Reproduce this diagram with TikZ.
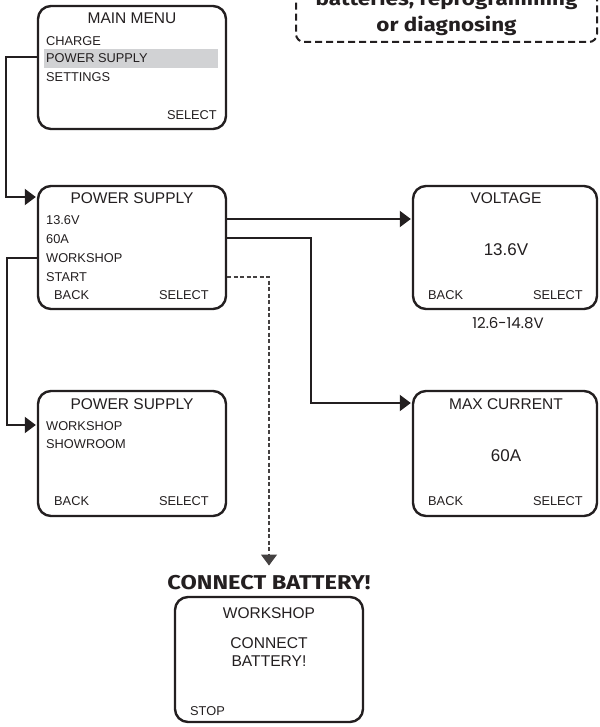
\documentclass[tikz,border=0pt]{standalone}
\usepackage{fontspec}
\setmainfont{Liberation Sans}
\newfontfamily\headfont{Fira Sans}[FakeStretch=1.18]
\newfontfamily\rangefont{Poppins}
\usetikzlibrary{arrows.meta}
\definecolor{ink}{HTML}{231F20}
\definecolor{hilite}{HTML}{D1D2D4}
\begin{document}
\begin{tikzpicture}[x=1pt,y=-1pt,
  screen/.style={draw=ink,line width=2.4pt,rounded corners=13pt,fill=white,inner sep=0pt},
  txt/.style={text=ink,inner sep=0pt,font=\fontsize{12.8}{14}\selectfont},
  ttl/.style={text=ink,inner sep=0pt,font=\fontsize{15.5}{17}\selectfont},
  big/.style={text=ink,inner sep=0pt,font=\fontsize{17}{19}\selectfont},
  wire/.style={draw=ink,line width=2pt},
  tip/.style={-{Triangle[length=11pt,width=16pt]}},
  hint/.style={draw=ink!85,line width=1.3pt,dash pattern=on 4pt off 2.5pt}]
\useasboundingbox (0,0) rectangle (599,727);
% note box, cut by the top edge
\node[draw=ink,line width=2pt,dash pattern=on 7pt off 4pt,rounded corners=8pt,
  minimum width=301,minimum height=58,align=center,text=ink,
  font=\headfont\bfseries\fontsize{19}{26}\selectfont] (note) at (446.5,13)
  {batteries, reprogramming\\or diagnosing};
% screens
\node[screen,minimum width=188,minimum height=123] (mm) at (132,67.5) {};
\node[screen,minimum width=188,minimum height=123] (ps1) at (132,247.5) {};
\node[screen,minimum width=188,minimum height=125] (ps2) at (132,453.5) {};
\node[screen,minimum width=184,minimum height=123] (vt) at (505,247.5) {};
\node[screen,minimum width=184,minimum height=125] (mc) at (505,453.5) {};
\node[screen,minimum width=188,minimum height=125] (cb) at (269,659.5) {};
\fill[hilite] (44,49) rectangle (218,68);
% main menu
\node[ttl] (mmt) at (132,18) {MAIN MENU};
\node[txt,anchor=west] (mm1) at (46,41) {CHARGE};
\node[txt,anchor=west] (mm2) at (46,58) {POWER SUPPLY};
\node[txt,anchor=west] (mm3) at (46,77) {SETTINGS};
\node[txt,anchor=east] (mms) at (217,115) {SELECT};
% power supply
\node[ttl] (ps1t) at (132,198) {POWER SUPPLY};
\node[txt,anchor=west] (ps11) at (46,220) {13.6V};
\node[txt,anchor=west] (ps12) at (46,239) {60A};
\node[txt,anchor=west] (ps13) at (46,258) {WORKSHOP};
\node[txt,anchor=west] (ps14) at (46,277) {START};
\node[txt,anchor=west] (ps1b) at (54,295) {BACK};
\node[txt,anchor=east] (ps1s) at (209,295) {SELECT};
% mode
\node[ttl] (ps2t) at (132,404) {POWER SUPPLY};
\node[txt,anchor=west] (ps21) at (46,426) {WORKSHOP};
\node[txt,anchor=west] (ps22) at (46,444) {SHOWROOM};
\node[txt,anchor=west] (ps2b) at (54,501) {BACK};
\node[txt,anchor=east] (ps2s) at (209,501) {SELECT};
% voltage
\node[ttl] (vtt) at (506,198) {VOLTAGE};
\node[big] (vtv) at (506,250) {13.6V};
\node[txt,anchor=west] (vtb) at (428,295) {BACK};
\node[txt,anchor=east] (vts) at (583,295) {SELECT};
\node[text=ink,inner sep=0pt,font=\rangefont\fontsize{15}{17}\selectfont] (vtr) at (508,323) {12.6-14.8V};
% max current
\node[ttl] (mct) at (506,404) {MAX CURRENT};
\node[big] (mcv) at (506,456) {60A};
\node[txt,anchor=west] (mcb) at (428,501) {BACK};
\node[txt,anchor=east] (mcs) at (583,501) {SELECT};
% connect battery
\node[text=ink,inner sep=0pt,font=\headfont\bfseries\fontsize{20}{22}\selectfont] (cbh) at (269,583) {CONNECT BATTERY!};
\node[ttl] (cbt) at (269,613) {WORKSHOP};
\node[text=ink,inner sep=0pt,align=center,font=\fontsize{15.6}{18.5}\selectfont] (cbm) at (269,652) {CONNECT\\BATTERY!};
\node[txt,anchor=west] (cbs) at (190,711) {STOP};
% connectors
\draw[wire,tip,shorten >=1pt] ([yshift=10.5pt]mm.west) -- ++(-31,0) |- ([yshift=50.5pt]ps1.west);
\draw[wire,tip,shorten >=1pt] ([yshift=28.5pt]ps1.east) -- ([yshift=28.5pt]ps1.east -| vt.west);
\draw[wire,tip,shorten >=1pt] ([yshift=9.5pt]ps1.east) -- ++(84,0) |- ([yshift=50.5pt]mc.west);
\draw[wire,tip,shorten >=1pt] ([yshift=-10.5pt]ps1.west) -- ++(-30,0) |- ([yshift=28.5pt]ps2.west);
\draw[hint,tip] ([yshift=-29.5pt]ps1.east) -| ([yshift=10pt]cbh.north);
\end{tikzpicture}
\end{document}
